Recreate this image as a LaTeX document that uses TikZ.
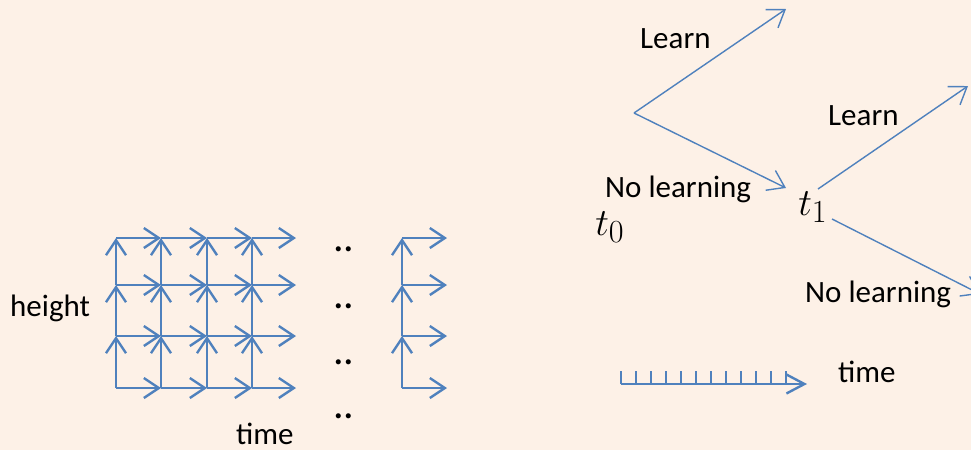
\documentclass[tikz,border=0pt]{standalone}
\usepackage[no-math]{fontspec}
\setmainfont{Carlito}
\usetikzlibrary{arrows.meta}
\definecolor{paper}{HTML}{FDF1E7}
\definecolor{lineblue}{HTML}{4F81BD}
\tikzset{
  grid arrow/.style={draw=lineblue, line width=2.4pt, -{Straight Barb[length=15pt,width=20pt]}},
  tree arrow/.style={draw=lineblue, line width=1.4pt, -{Straight Barb[length=16pt,width=22pt]}},
  txt/.style={font=\fontsize{31}{36}\selectfont, inner sep=0pt},
  tmath/.style={font=\Huge, scale=1.55, inner sep=0pt},
  dotpair/.style={font=\fontsize{42}{42}\selectfont, inner sep=0pt}
}
\begin{document}
\begin{tikzpicture}[x=1pt,y=-1pt]
\fill[paper] (0,0) rectangle (971,450);
\clip (0,0) rectangle (971,450);

% lattice points
\foreach \c/\x in {0/116,1/161,2/207,3/252,4/296}{
  \foreach \r/\y in {0/388,1/336,2/285,3/238}{
    \coordinate (g\c\r) at (\x,\y);
  }
}
% steps in time
\foreach \c [evaluate=\c as \cn using int(\c+1)] in {0,...,3}{
  \foreach \r in {0,...,3}{
    \draw[grid arrow] (g\c\r) -- (g\cn\r);
  }
}
% steps in height
\foreach \c in {0,...,3}{
  \foreach \r [evaluate=\r as \rn using int(\r+1)] in {0,...,2}{
    \draw[grid arrow] (g\c\r) -- (g\c\rn);
  }
}
% last column
\foreach \r/\y in {0/388,1/336,2/285,3/238}{
  \coordinate (h\r) at (402,\y);
  \coordinate (k\r) at (447,\y);
  \draw[grid arrow] (h\r) -- (k\r);
}
\foreach \r [evaluate=\r as \rn using int(\r+1)] in {0,...,2}
  \draw[grid arrow] (h\r) -- (h\rn);
% gap between the columns
\foreach \i/\y in {1/249,2/306,3/362,4/416}
  \node[dotpair] (dots\i) at (344,\y) {..};

\node[txt, anchor=base west] (height) at (10,316) {height};
\node[txt, anchor=base west] (timeA) at (236,444) {time};

% decision tree
\coordinate (v0) at (634,113);
\coordinate (up0) at (786,9);
\coordinate (dn0) at (786,188);
\node[tmath, anchor=base west] (t0) at (595,235) {$t_0$};
\node[tmath, anchor=base west] (t1) at (798,215) {$t_1$};
\coordinate (v1u) at (818,189);
\coordinate (v1d) at (832,219);
\coordinate (up1) at (968,86);
\coordinate (dn1) at (980,294);
\draw[tree arrow] (v0) -- (up0);
\draw[tree arrow] (v0) -- (dn0);
\draw[tree arrow] (v1u) -- (up1);
\draw[tree arrow] (v1d) -- (dn1);
\node[txt, anchor=base west] (learn0) at (640,48) {Learn};
\node[txt, anchor=base west] (nolearn0) at (605,197) {No learning};
\node[txt, anchor=base west] (learn1) at (828,125) {Learn};
\node[txt, anchor=base west] (nolearn1) at (805,302) {No learning};

% time axis
\coordinate (s0) at (621,384);
\coordinate (s1) at (807,384);
\draw[lineblue, line width=2.4pt, -{Straight Barb[length=18pt,width=19pt]}] (s0) -- (s1);
\foreach \i in {0,...,11}
  \draw[lineblue, line width=2.4pt] (621+\i*15,384) -- ++(0,-13.5);
\node[txt, anchor=base west] (timeB) at (838,382) {time};
\end{tikzpicture}
\end{document}
